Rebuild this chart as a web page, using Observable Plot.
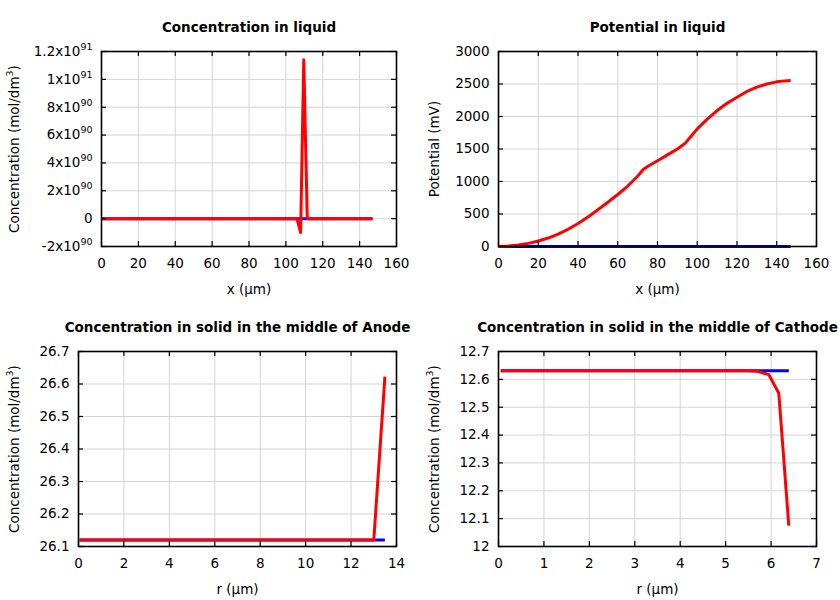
<!DOCTYPE html>
<html><head><meta charset="utf-8">
<script src="https://cdn.jsdelivr.net/npm/d3@7"></script>
<script src="https://cdn.jsdelivr.net/npm/@observablehq/plot@0.6"></script>
<style>
body{margin:0;background:white;}
#wrap{display:grid;grid-template-columns:420px 420px;width:840px;}
</style></head><body><div id="wrap"></div>
<script>
// ---- Panel 1: Concentration in liquid ----
const liqX        = [0, 20, 40, 60, 80, 100, 106, 108, 109.7, 111.6, 120, 140, 147];
const liqConcNow  = [0, 0, 0, 0, 0, 0, 0, -1.0e90, 1.14e91, 0, 0, 0, 0];
const liqConcInit = [0, 0, 0, 0, 0, 0, 0, 0, 0, 0, 0, 0, 0];
const liqXTicks = [0, 20, 40, 60, 80, 100, 120, 140, 160];
const liqYTicks = [-2e90, 0, 2e90, 4e90, 6e90, 8e90, 1e91, 1.2e91];
const liqYTickLabels = ["-2x10⁹⁰", "0", "2x10⁹⁰", "4x10⁹⁰", "6x10⁹⁰", "8x10⁹⁰", "1x10⁹¹", "1.2x10⁹¹"];

// ---- Panel 2: Potential in liquid ----
const potX    = [0, 5, 10, 15, 20, 25, 30, 35, 40, 45, 50, 55, 60, 65, 70, 72.8, 75, 80, 85, 90, 94, 97, 100, 105, 110, 115, 120, 125, 130, 135, 140, 144, 147];
const potNow  = [0, 6, 22, 48, 84, 130, 190, 265, 355, 455, 565, 680, 800, 930, 1080, 1185, 1230, 1320, 1410, 1500, 1590, 1700, 1810, 1960, 2092, 2205, 2297, 2385, 2451, 2500, 2533, 2548, 2554];
const potInit = [0, 0, 0, 0, 0, 0, 0, 0, 0, 0, 0, 0, 0, 0, 0, 0, 0, 0, 0, 0, 0, 0, 0, 0, 0, 0, 0, 0, 0, 0, 0, 0, 0];
const potXTicks = [0, 20, 40, 60, 80, 100, 120, 140, 160];
const potYTicks = [0, 500, 1000, 1500, 2000, 2500, 3000];
const potYTickLabels = ["0", "500", "1000", "1500", "2000", "2500", "3000"];

// ---- Panel 3: Anode solid ----
const anR       = [0.05, 2, 4, 6, 8, 10, 12, 13.0, 13.49];
const anNow     = [26.12, 26.12, 26.12, 26.12, 26.12, 26.12, 26.12, 26.12, 26.623];
const anInit    = [26.12, 26.12, 26.12, 26.12, 26.12, 26.12, 26.12, 26.12, 26.12];
const anXTicks  = [0, 2, 4, 6, 8, 10, 12, 14];
const anYTicks  = [26.1, 26.2, 26.3, 26.4, 26.5, 26.6, 26.7];
const anYTickLabels = ["26.1", "26.2", "26.3", "26.4", "26.5", "26.6", "26.7"];

// ---- Panel 4: Cathode solid ----
const caR       = [0.05, 1, 2, 3, 4, 5, 5.5, 5.7, 5.95, 6.17, 6.39];
const caNow     = [12.631, 12.631, 12.631, 12.631, 12.631, 12.631, 12.631, 12.629, 12.617, 12.55, 12.075];
const caInit    = [12.631, 12.631, 12.631, 12.631, 12.631, 12.631, 12.631, 12.631, 12.631, 12.631, 12.631];
const caXTicks  = [0, 1, 2, 3, 4, 5, 6, 7];
const caYTicks  = [12, 12.1, 12.2, 12.3, 12.4, 12.5, 12.6, 12.7];
const caYTickLabels = ["12", "12.1", "12.2", "12.3", "12.4", "12.5", "12.6", "12.7"];

const concLabel = "Concentration (mol/dm³)";

// turn Unicode superscript digits into a raised, smaller tspan (gnuplot-like)
const SUP = {"⁰":"0","¹":"1","²":"2","³":"3","⁴":"4","⁵":"5","⁶":"6","⁷":"7","⁸":"8","⁹":"9"};
function raiseSuperscripts(svg) {
  const ns = "http://www.w3.org/2000/svg";
  svg.querySelectorAll("text").forEach(t => {
    if (t.querySelector("tspan")) return;
    const s = t.textContent;
    const m = s.match(/^(.*?)([⁰¹²³⁴⁵⁶⁷⁸⁹]+)(.*)$/);
    if (!m) return;
    t.textContent = "";
    const a = document.createElementNS(ns, "tspan"); a.textContent = m[1]; t.append(a);
    const b = document.createElementNS(ns, "tspan");
    b.textContent = [...m[2]].map(c => SUP[c]).join("");
    b.setAttribute("font-size", "9.5"); b.setAttribute("dy", "-6"); t.append(b);
    if (m[3]) {
      const c = document.createElementNS(ns, "tspan"); c.textContent = m[3]; c.setAttribute("dy", "6"); t.append(c);
    }
  });
  return svg;
}

function panel(o) {
  const W = 420, H = 300, mL = o.marginLeft, mR = 24, mT = 51, mB = 54;
  const pw = W - mL - mR, ph = H - mT - mB;
  const init = o.x.map((x, i) => ({x, y: o.init[i]}));
  const now = o.x.map((x, i) => ({x, y: o.now[i]}));
  const fmtY = d => o.yLabels[o.yTicks.indexOf(d)];
  return raiseSuperscripts(Plot.plot({
    width: W, height: H,
    marginLeft: mL, marginRight: mR, marginTop: mT, marginBottom: mB,
    style: {fontFamily: "DejaVu Sans", fontSize: "13.5px", color: "black", background: "white", overflow: "visible"},
    x: {domain: o.xDomain},
    y: {domain: o.yDomain},
    marks: [
      Plot.gridX({ticks: o.xTicks, stroke: "#d4d4d4", strokeOpacity: 1}),
      Plot.gridY({ticks: o.yTicks, stroke: "#d4d4d4", strokeOpacity: 1}),
      Plot.line(init, {x: "x", y: "y", stroke: "#0000ff", strokeWidth: 3, strokeLinecap: "butt"}),
      Plot.line(now, {x: "x", y: "y", stroke: "#ff0000", strokeWidth: 3, strokeLinecap: "butt"}),
      Plot.frame({stroke: "black", strokeWidth: 1.6}),
      Plot.ruleX(o.xTicks, {x: d => d, insetTop: ph - 5, stroke: "black", strokeWidth: 1.2}),
      Plot.ruleX(o.xTicks, {x: d => d, insetBottom: ph - 5, stroke: "black", strokeWidth: 1.2}),
      Plot.ruleY(o.yTicks, {y: d => d, insetRight: pw - 5, stroke: "black", strokeWidth: 1.2}),
      Plot.ruleY(o.yTicks, {y: d => d, insetLeft: pw - 5, stroke: "black", strokeWidth: 1.2}),
      Plot.axisX({ticks: o.xTicks, tickSize: 0, tickPadding: 12, tickFormat: d => String(d), label: null, fontSize: 13.5}),
      Plot.axisY({ticks: o.yTicks, tickSize: 0, tickPadding: 9, tickFormat: fmtY, label: null, fontSize: 13.5}),
      Plot.text([o.title], {frameAnchor: "top", dy: -29, fontWeight: "bold", fontSize: 13.5, text: d => d}),
      Plot.text([o.xLabel], {frameAnchor: "bottom", dy: 47, fontSize: 13.5, text: d => d}),
      Plot.text([o.yLabel], {frameAnchor: "left", textAnchor: "middle", dx: 14 - mL, rotate: -90, fontSize: 13.5, text: d => d})
    ]
  }));
}

const wrap = document.getElementById("wrap");
wrap.append(panel({
  title: "Concentration in liquid", xLabel: "x (µm)", yLabel: concLabel,
  marginLeft: 101, x: liqX, now: liqConcNow, init: liqConcInit,
  xDomain: [0, 160], yDomain: [-2e90, 1.2e91],
  xTicks: liqXTicks, yTicks: liqYTicks, yLabels: liqYTickLabels
}));
wrap.append(panel({
  title: "Potential in liquid", xLabel: "x (µm)", yLabel: "Potential (mV)",
  marginLeft: 78, x: potX, now: potNow, init: potInit,
  xDomain: [0, 160], yDomain: [0, 3000],
  xTicks: potXTicks, yTicks: potYTicks, yLabels: potYTickLabels
}));
wrap.append(panel({
  title: "Concentration in solid in the middle of Anode", xLabel: "r (µm)", yLabel: concLabel,
  marginLeft: 78, x: anR, now: anNow, init: anInit,
  xDomain: [0, 14], yDomain: [26.1, 26.7],
  xTicks: anXTicks, yTicks: anYTicks, yLabels: anYTickLabels
}));
wrap.append(panel({
  title: "Concentration in solid in the middle of Cathode", xLabel: "r (µm)", yLabel: concLabel,
  marginLeft: 78, x: caR, now: caNow, init: caInit,
  xDomain: [0, 7], yDomain: [12, 12.7],
  xTicks: caXTicks, yTicks: caYTicks, yLabels: caYTickLabels
}));
</script>
</body></html>
